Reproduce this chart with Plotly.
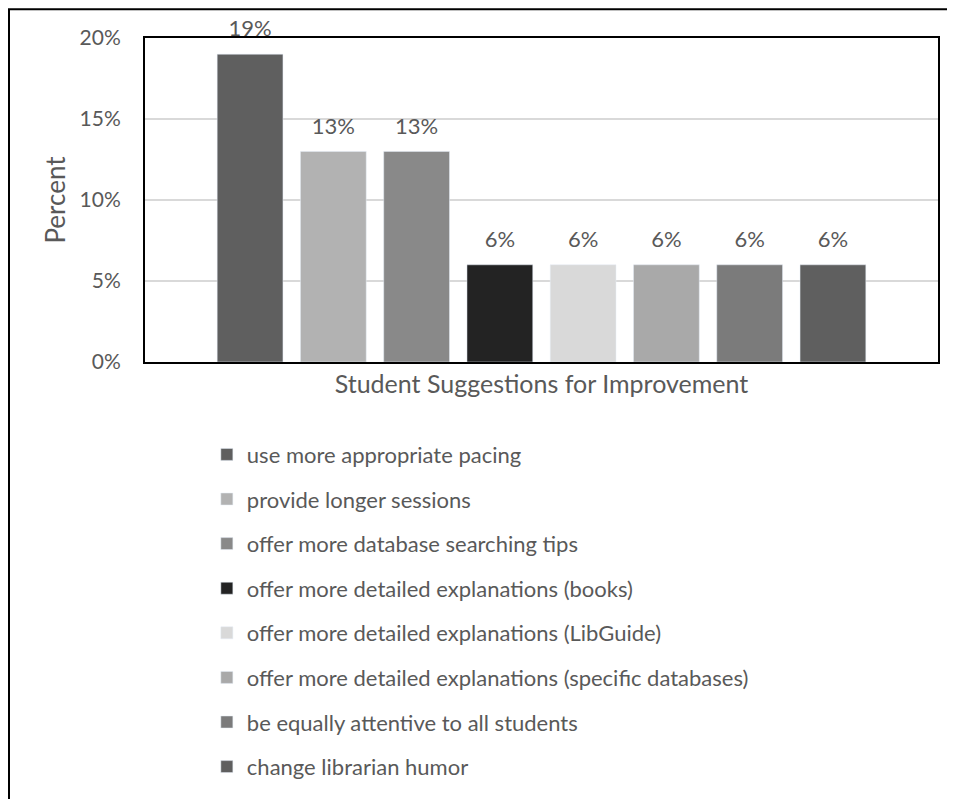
import plotly.graph_objects as go

suggestions = [
    "use more appropriate pacing",
    "provide longer sessions",
    "offer more database searching tips",
    "offer more detailed explanations (books)",
    "offer more detailed explanations (LibGuide)",
    "offer more detailed explanations (specific databases)",
    "be equally attentive to all students",
    "change librarian humor",
]
percent = [19, 13, 13, 6, 6, 6, 6, 6]
colors = ["#5f5f5f", "#b2b2b2", "#898989", "#232323", "#d9d9d9", "#a9a9a9", "#7b7b7b", "#5f5f5f"]
category = ["Student Suggestions for Improvement"]
y_ticks = [0, 5, 10, 15, 20]

FONT = "Lato"
TXT = "#595959"

fig = go.Figure()
for i, (name, val, col) in enumerate(zip(suggestions, percent, colors)):
    fig.add_trace(go.Bar(
        x=category, y=[val], name=name, marker_color=col,
        legendgroup=f"g{i}", offsetgroup=f"g{i}",
    ))
# data labels, grouped like the bars
for i, (name, val) in enumerate(zip(suggestions, percent)):
    fig.add_trace(go.Scatter(
        x=category, y=[val], mode="markers+text", text=[f"{val}%"],
        textposition="top center", cliponaxis=False, showlegend=False,
        marker=dict(size=18, color="rgba(0,0,0,0)"),
        textfont=dict(family=FONT, size=22, color=TXT),
        offsetgroup=f"g{i}", hoverinfo="skip",
    ))

fig.update_layout(
    width=955, height=799,
    margin=dict(l=137, r=25, t=30, b=445),
    paper_bgcolor="white", plot_bgcolor="white",
    barmode="group", bargap=0.16, bargroupgap=0.21,
    scattermode="group", scattergap=0.16,
    font=dict(family=FONT, size=20, color=TXT),
    showlegend=True,
    legend=dict(
        x=0.078, xanchor="left", y=-0.221, yanchor="top",
        orientation="v", tracegroupgap=13,
        font=dict(family=FONT, size=22, color=TXT),
        itemwidth=30,
    ),
    xaxis=dict(
        showticklabels=False, showline=True, linecolor="black", linewidth=2,
        mirror=True, title=dict(text="Student Suggestions for Improvement", standoff=12,
                                font=dict(family=FONT, size=25, color=TXT)),
    ),
    yaxis=dict(
        range=[0, 20], tickvals=y_ticks, ticktext=[f"{v}%" for v in y_ticks],
        showgrid=True, gridcolor="#d9d9d9", gridwidth=1.5,
        showline=True, linecolor="black", linewidth=2, mirror=True,
        ticklabelstandoff=18, zeroline=False,
        tickfont=dict(family=FONT, size=21, color=TXT),
        title=dict(text="Percent", standoff=6, font=dict(family=FONT, size=26, color=TXT)),
    ),
)

# outer frame of the figure (top and left edges visible)
fig.add_shape(type="rect", xref="paper", yref="paper",
              x0=-0.1715, x1=1.05, y0=-1.45, y1=1.089,
              line=dict(color="black", width=2), fillcolor="rgba(0,0,0,0)")

fig.write_html("out.html")
